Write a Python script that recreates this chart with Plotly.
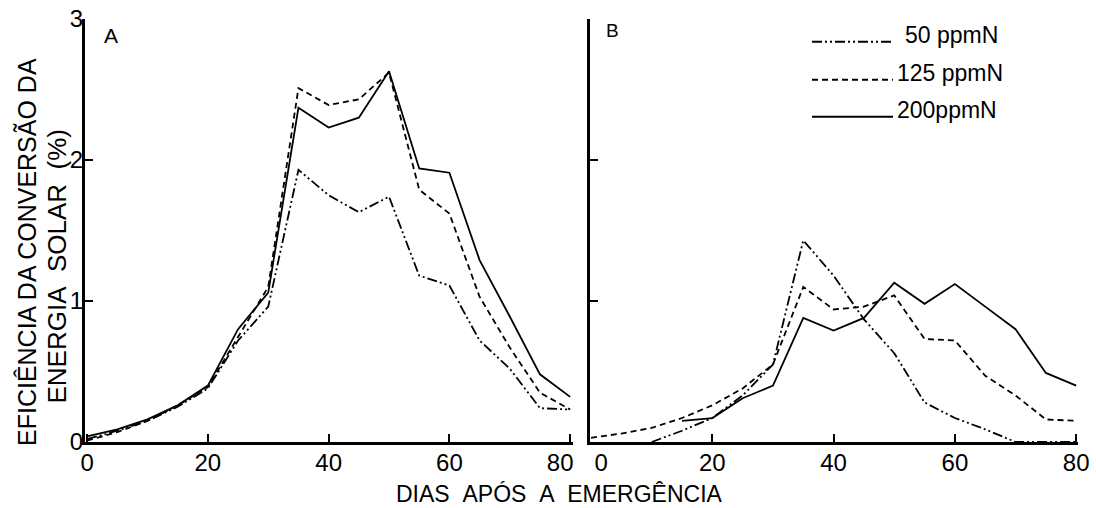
import plotly.graph_objects as go
from plotly.subplots import make_subplots

days = [0, 5, 10, 15, 20, 25, 30, 35, 40, 45, 50, 55, 60, 65, 70, 75, 80]
series_names = ["50 ppmN", "125 ppmN", "200ppmN"]

# Panel A
a_50 = [0.02, 0.08, 0.15, 0.25, 0.38, 0.72, 0.96, 1.93, 1.75, 1.63, 1.74, 1.18, 1.11, 0.72, 0.52, 0.24, 0.23]
a_125 = [0.01, 0.07, 0.15, 0.26, 0.39, 0.75, 1.10, 2.51, 2.39, 2.43, 2.62, 1.79, 1.62, 1.03, 0.67, 0.35, 0.23]
a_200 = [0.04, 0.09, 0.16, 0.26, 0.40, 0.80, 1.06, 2.37, 2.23, 2.30, 2.63, 1.94, 1.91, 1.29, 0.89, 0.48, 0.32]

# Panel B
b_50 = [None, None, 0.0, 0.08, 0.17, 0.33, 0.55, 1.43, 1.18, 0.87, 0.63, 0.28, 0.17, 0.09, 0.0, 0.0, 0.0]
b_125 = [0.03, 0.06, 0.10, 0.17, 0.26, 0.38, 0.55, 1.10, 0.94, 0.96, 1.04, 0.73, 0.72, 0.47, 0.33, 0.16, 0.15]
b_200 = [None, None, None, 0.15, 0.17, 0.31, 0.40, 0.88, 0.79, 0.88, 1.13, 0.98, 1.12, 0.96, 0.80, 0.49, 0.40]

x_ticks = [0, 20, 40, 60, 80]
x_ticktext_a = ["0", "20", "40", "60", "80\u00a0\u00a0\u00a0"]
x_ticktext_b = ["\u00a0\u00a0\u00a00", "20", "40", "60", "80"]
y_ticks = [0, 1, 2, 3]

dashes = ["10px,3px,2px,3px,2px,3px", "6px,4px", "solid"]
FONT = "Liberation Sans"

fig = make_subplots(rows=1, cols=2, horizontal_spacing=0.018)

for col, data in ((1, [a_50, a_125, a_200]), (2, [b_50, b_125, b_200])):
    for name, vals, dash in zip(series_names, data, dashes):
        fig.add_trace(
            go.Scatter(x=days, y=vals, mode="lines", name=name,
                       line=dict(color="black", width=1.8, dash=dash),
                       showlegend=False, connectgaps=False, hoverinfo="skip"),
            row=1, col=col)

axis_common = dict(showline=True, linecolor="black", linewidth=3, ticks="inside",
                   ticklen=8, tickwidth=2, tickcolor="black", showgrid=False,
                   zeroline=False, mirror=False, automargin=False,
                   tickfont=dict(family=FONT, size=24, color="black"))

fig.update_xaxes(range=[-0.35, 80.4], tickvals=x_ticks, ticktext=x_ticktext_a,
                 ticklabelstandoff=-3, **axis_common)
fig.update_yaxes(range=[0, 3], tickvals=y_ticks, **axis_common)
fig.update_xaxes(range=[-0.1, 80.3], ticktext=x_ticktext_b, row=1, col=2)
fig.update_yaxes(showticklabels=False, row=1, col=2)
fig.update_yaxes(ticklabelstandoff=-6, row=1, col=1)

fig.update_layout(
    width=1096, height=508,
    margin=dict(l=85, r=18, t=19, b=66),
    paper_bgcolor="white", plot_bgcolor="white",
    font=dict(family=FONT, color="black"),
)

annotations = [
    dict(text="EFICIÊNCIA DA CONVERSÃO DA", textangle=-90,
         xref="paper", yref="paper", x=(27 - 85) / 993, y=(442 - 448) / 423,
         xanchor="center", yanchor="bottom",
         showarrow=False, font=dict(family=FONT, size=25, color="black")),
    dict(text="ENERGIA\u00a0\u00a0SOLAR\u00a0\u00a0(%)", textangle=-90,
         xref="paper", yref="paper", x=(56 - 85) / 993, y=(442 - 406) / 423,
         xanchor="center", yanchor="bottom",
         showarrow=False, font=dict(family=FONT, size=26, color="black")),
    dict(text="DIAS\u00a0\u00a0APÓS\u00a0\u00a0A\u00a0\u00a0EMERGÊNCIA", xref="paper", yref="paper",
         x=0.478, y=-0.123, xanchor="center", yanchor="middle", showarrow=False,
         font=dict(family=FONT, size=23, color="black")),
    dict(text="A", xref="paper", yref="paper", x=0.026, y=0.962, xanchor="center", yanchor="middle",
         showarrow=False, font=dict(family=FONT, size=21, color="black")),
    dict(text="B", xref="paper", yref="paper", x=0.531, y=0.972, xanchor="center", yanchor="middle",
         showarrow=False, font=dict(family=FONT, size=19, color="black")),
]

# legend (samples + labels) in top right of panel B
leg_x0 = (812 - 85) / 993
leg_x1 = (893 - 85) / 993
leg_ys = [(442 - 35) / 423, (442 - 73) / 423, (442 - 110) / 423]
leg_tx = [(903 - 85) / 993, (895 - 85) / 993, (895 - 85) / 993]
shapes = []
for name, dash, ly, tx in zip(series_names, dashes, leg_ys, leg_tx):
    shapes.append(dict(type="line", xref="paper", yref="paper", x0=leg_x0, x1=leg_x1,
                       y0=ly - 0.016, y1=ly - 0.016, line=dict(color="black", width=1.8, dash=dash)))
    annotations.append(dict(text=name, xref="paper", yref="paper", x=tx, y=ly,
                            xanchor="left", yanchor="middle", showarrow=False,
                            font=dict(family=FONT, size=23, color="black")))

fig.update_layout(annotations=annotations, shapes=shapes)
fig.write_html("out.html", config={"displayModeBar": False},
               post_script="document.body.style.margin='0px';")
